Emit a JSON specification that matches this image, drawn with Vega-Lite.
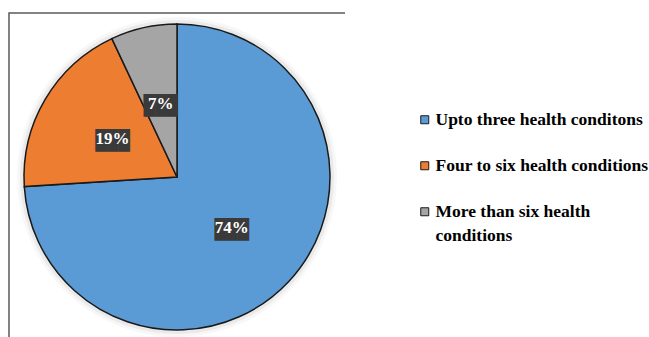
{
  "$schema": "https://vega.github.io/schema/vega-lite/v6.json",
  "autosize": {"type": "none"},
  "width": 336,
  "height": 328,
  "padding": {"left": 9, "top": 13, "right": 304, "bottom": 0},
  "background": "white",
  "view": {"stroke": "#595959", "strokeWidth": 1.5, "strokeDash": [336, 664, 328, 1]},
  "config": {
    "view": {"stroke": "#595959", "strokeWidth": 1.5, "strokeDash": [336, 664, 328, 1]}
  },
  "data": {
    "values": [
      {"category": "Upto three health conditons", "value": 74, "label": "74%", "idx": 1},
      {"category": "Four to six health conditions", "value": 19, "label": "19%", "idx": 2},
      {"category": "More than six health conditions", "value": 7, "label": "7%", "idx": 3}
    ]
  },
  "encoding": {
    "theta": {"field": "value", "type": "quantitative", "stack": true},
    "order": {"field": "idx", "type": "quantitative"}
  },
  "layer": [
    {
      "mark": {"type": "arc", "outerRadius": 160, "fill": "#000000", "fillOpacity": 0.03, "strokeWidth": 0},
      "encoding": {"detail": {"field": "category"}}
    },
    {
      "mark": {"type": "arc", "outerRadius": 157, "fill": "#000000", "fillOpacity": 0.05, "strokeWidth": 0},
      "encoding": {"detail": {"field": "category"}}
    },
    {
      "mark": {"type": "arc", "outerRadius": 153, "stroke": "#1a1a1a", "strokeWidth": 1.5},
      "encoding": {
        "color": {
          "field": "category",
          "type": "nominal",
          "scale": {
            "domain": ["Upto three health conditons", "Four to six health conditions", "More than six health conditions"],
            "range": ["#5B9BD5", "#ED7D31", "#A5A5A5"]
          },
          "legend": {
            "title": null,
            "orient": "none",
            "legendX": 407,
            "legendY": 98,
            "padding": 0,
            "symbolType": "square",
            "symbolSize": 64,
            "symbolStrokeColor": "#1a1a1a",
            "symbolStrokeWidth": 1,
            "labelFont": "Liberation Serif",
            "labelFontWeight": "bold",
            "labelFontSize": 17.5,
            "labelColor": "#000000",
            "labelOffset": 2,
            "labelLimit": 400,
            "rowPadding": 27,
            "labelExpr": "datum.label == 'More than six health conditions' ? ['More than six health', 'conditions'] : datum.label",
            "encode": {"labels": {"update": {"lineHeight": {"value": 24}}}}
          }
        }
      }
    },
    {
      "mark": {"type": "text", "radius": 75, "font": "DejaVu Sans Mono", "fontSize": 19, "fill": "#3a3a3a", "baseline": "middle", "dy": 2},
      "encoding": {
        "detail": {"field": "category"},
        "text": {"value": "███"}
      }
    },
    {
      "mark": {"type": "text", "radius": 75, "font": "Liberation Serif", "fontWeight": "bold", "fontSize": 17, "fill": "#ffffff"},
      "encoding": {
        "detail": {"field": "category"},
        "text": {"field": "label"}
      }
    }
  ]
}
